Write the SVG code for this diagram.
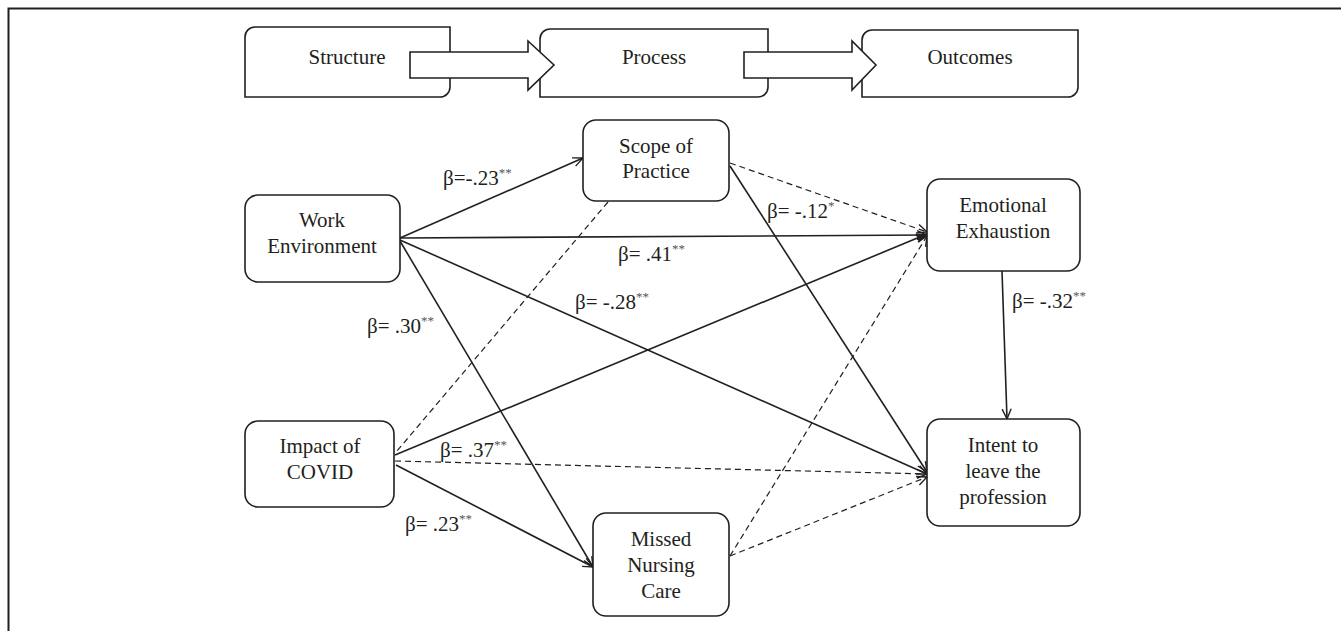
<svg xmlns="http://www.w3.org/2000/svg" width="1341" height="631" viewBox="0 0 1341 631">
<style>
  text { font-family: "Liberation Serif", "Times New Roman", serif; font-size: 21px; fill: #231f20; }
  .c { text-anchor: middle; }
  .sup { font-size: 13px; fill: #555; }
  .box { fill: #fff; stroke: #231f20; stroke-width: 1.6; }
  .hdr { fill: #fff; stroke: #231f20; stroke-width: 1.6; }
  .sol { fill: none; stroke: #231f20; stroke-width: 1.6; }
  .dsh { fill: none; stroke: #231f20; stroke-width: 1.2; stroke-dasharray: 6 4; }
</style>
<defs>
  <marker id="arr" viewBox="0 0 12 12" refX="11" refY="6" markerWidth="12" markerHeight="12" markerUnits="userSpaceOnUse" orient="auto">
    <path d="M1,1.5 L11,6 L1,10.5" fill="none" stroke="#231f20" stroke-width="1.4"/>
  </marker>
  <marker id="arrf" viewBox="0 0 12 12" refX="11" refY="6" markerWidth="12" markerHeight="12" markerUnits="userSpaceOnUse" orient="auto">
    <path d="M1,2 L11,6 L1,10 Z" fill="#231f20" stroke="#231f20" stroke-width="1"/>
  </marker>
</defs>
<rect width="1341" height="631" fill="#fff"/>
<g id="frame">
  <path d="M8.5,631 V8.5 H1341" fill="none" stroke="#231f20" stroke-width="2"/>
</g>
<g id="header">
  <g id="structure">
    <path class="hdr" d="M255,27 H450 V87 A10,10 0 0 1 440,97 H245 V37 A10,10 0 0 1 255,27 Z"/>
    <text class="c" x="347" y="64">Structure</text>
  </g>
  <g id="process">
    <path class="hdr" d="M550,29 H768 V87 A10,10 0 0 1 758,97 H540 V39 A10,10 0 0 1 550,29 Z"/>
    <text class="c" x="654" y="64">Process</text>
  </g>
  <g id="outcomes">
    <path class="hdr" d="M872,30 H1078 V87 A10,10 0 0 1 1068,97 H862 V40 A10,10 0 0 1 872,30 Z"/>
    <text class="c" x="970" y="64">Outcomes</text>
  </g>
  <g id="header-arrows">
    <polygon class="hdr" points="410,52 528,52 528,41 554,65 528,90 528,78 410,78"/>
    <polygon class="hdr" points="744,52 852,52 852,41 876,65 852,90 852,78 744,78"/>
  </g>
</g>
<g id="connectors">
  <path class="sol" d="M400,238 L583,158" marker-end="url(#arr)"/>
  <path class="sol" d="M400,238 L927,235" marker-end="url(#arr)"/>
  <path class="sol" d="M400,240 L927,474" marker-end="url(#arr)"/>
  <path class="sol" d="M400,241 L593,567" marker-end="url(#arr)"/>
  <path class="dsh" d="M730,163 L927,232" marker-end="url(#arr)"/>
  <path class="sol" d="M730,166 L927,472" marker-end="url(#arr)"/>
  <path class="dsh" d="M608,202 L397,451"/>
  <path class="sol" d="M395,455 L927,234" marker-end="url(#arrf)"/>
  <path class="dsh" d="M395,461 L927,474" marker-end="url(#arr)"/>
  <path class="sol" d="M396,465 L593,567" marker-end="url(#arr)"/>
  <path class="dsh" d="M730,556 L927,236" marker-end="url(#arr)"/>
  <path class="dsh" d="M730,556 L927,477" marker-end="url(#arr)"/>
  <path class="sol" d="M1002,271 L1007,419" marker-end="url(#arr)"/>
</g>
<g id="labels">
  <text x="443" y="185">β=-.23<tspan class="sup" dy="-8">**</tspan></text>
  <text x="618" y="261">β= .41<tspan class="sup" dy="-8">**</tspan></text>
  <text x="575" y="309">β= -.28<tspan class="sup" dy="-8">**</tspan></text>
  <text x="767" y="218">β= -.12<tspan class="sup" dy="-8">*</tspan></text>
  <text x="367" y="333">β= .30<tspan class="sup" dy="-8">**</tspan></text>
  <text x="440" y="457">β= .37<tspan class="sup" dy="-8">**</tspan></text>
  <text x="405" y="531">β= .23<tspan class="sup" dy="-8">**</tspan></text>
  <text x="1012" y="308">β= -.32<tspan class="sup" dy="-8">**</tspan></text>
</g>
<g id="work-environment">
  <rect class="box" x="245" y="195" width="155" height="87" rx="13"/>
  <text class="c" x="322" y="227">Work</text>
  <text class="c" x="322" y="253">Environment</text>
</g>
<g id="impact-of-covid">
  <rect class="box" x="245" y="421" width="149" height="86" rx="13"/>
  <text class="c" x="320" y="453">Impact of</text>
  <text class="c" x="320" y="479">COVID</text>
</g>
<g id="scope-of-practice">
  <rect class="box" x="583" y="120" width="146" height="81" rx="13"/>
  <text class="c" x="656" y="153">Scope of</text>
  <text class="c" x="656" y="178">Practice</text>
</g>
<g id="emotional-exhaustion">
  <rect class="box" x="927" y="179" width="153" height="92" rx="13"/>
  <text class="c" x="1003" y="212">Emotional</text>
  <text class="c" x="1003" y="238">Exhaustion</text>
</g>
<g id="intent-to-leave">
  <rect class="box" x="927" y="419" width="153" height="107" rx="13"/>
  <text class="c" x="1003" y="452">Intent to</text>
  <text class="c" x="1003" y="478">leave the</text>
  <text class="c" x="1003" y="504">profession</text>
</g>
<g id="missed-nursing-care">
  <rect class="box" x="593" y="513" width="136" height="103" rx="13"/>
  <text class="c" x="661" y="546">Missed</text>
  <text class="c" x="661" y="572">Nursing</text>
  <text class="c" x="661" y="598">Care</text>
</g>
</svg>
